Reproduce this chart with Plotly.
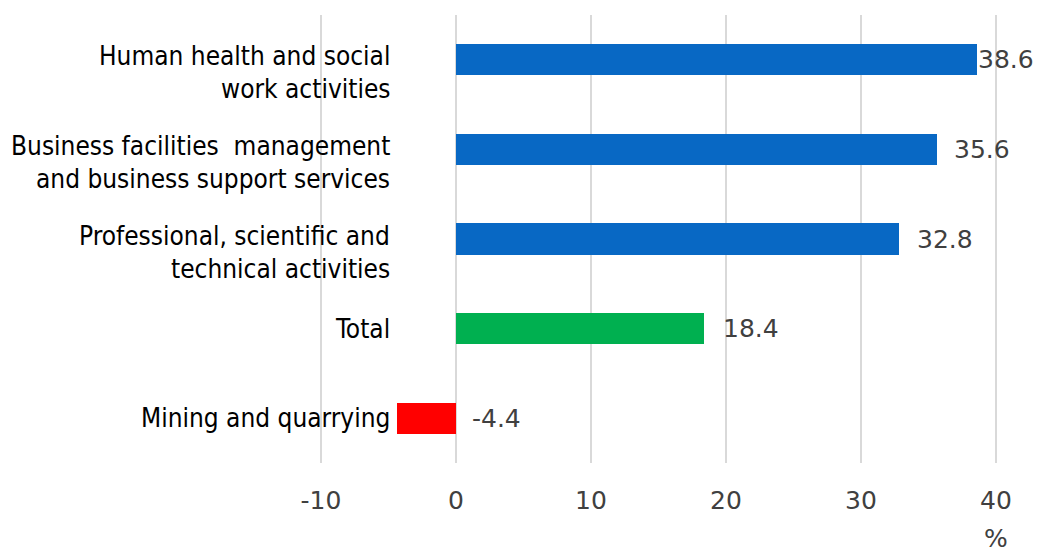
import plotly.graph_objects as go

categories = [
    "Human health and social<br>work activities",
    "Business facilities  management<br>and business support services",
    "Professional, scientific and<br>technical activities",
    "Total",
    "Mining and quarrying",
]
values = [38.6, 35.6, 32.8, 18.4, -4.4]
colors = ["#0868C4", "#0868C4", "#0868C4", "#00B050", "#FF0000"]
value_labels = ["38.6", "35.6", "32.8", "18.4", "-4.4"]
label_xshift = [-1, 15, 16, 17, 14]
tick_vals = [-10, 0, 10, 20, 30, 40]
tick_text = ["-10", "0", "10", "20", "30", "40"]
unit_label = "%"

cat_font = dict(family="DejaVu Sans Condensed, sans-serif", size=26, color="#000000")
num_font = dict(family="DejaVu Sans, sans-serif", size=25, color="#404040")

fig = go.Figure()
fig.add_trace(go.Bar(
    y=list(range(len(categories))),
    x=values,
    orientation="h",
    marker=dict(color=colors, line=dict(width=0)),
    width=0.35,
    hoverinfo="skip",
))

annotations = []
line_gap = 33
for i, cat in enumerate(categories):
    lines = cat.split("<br>")
    n = len(lines)
    for j, ln in enumerate(lines):
        off = (j - (n - 1) / 2) * line_gap + 13 * (n - 1)
        annotations.append(dict(
            x=-5, y=i, xref="x", yref="y", text=ln, showarrow=False,
            xanchor="right", yanchor="middle", yshift=-off, xshift=3, font=cat_font,
        ))
for i, (v, t) in enumerate(zip(values, value_labels)):
    annotations.append(dict(
        x=max(v, 0), y=i, xref="x", yref="y", text=t, showarrow=False,
        xanchor="left", yanchor="middle", xshift=label_xshift[i], font=num_font,
    ))
annotations.append(dict(
    x=40, y=0, xref="x", yref="paper", text=unit_label, showarrow=False,
    xanchor="center", yanchor="top", yshift=-59, font=num_font,
))

fig.update_layout(
    width=1042, height=551,
    margin=dict(l=0, r=0, t=15, b=88),
    paper_bgcolor="white", plot_bgcolor="white",
    showlegend=False,
    bargap=0,
    annotations=annotations,
    xaxis=dict(
        range=[-456 / 13.5, (1042 - 456) / 13.5],
        tickvals=tick_vals, ticktext=tick_text,
        showgrid=True, gridcolor="#D9D9D9", gridwidth=1.5,
        zeroline=False, showline=False, ticks="",
        tickfont=num_font, ticklabelstandoff=20,
        fixedrange=True,
    ),
    yaxis=dict(
        range=[4.5, -0.5],
        showticklabels=False, showgrid=False, zeroline=False, showline=False, ticks="",
        fixedrange=True,
    ),
)

fig.write_html(
    "out.html",
    config={"displayModeBar": False},
    post_script="document.body.style.margin='0';document.body.style.overflow='hidden';",
)
